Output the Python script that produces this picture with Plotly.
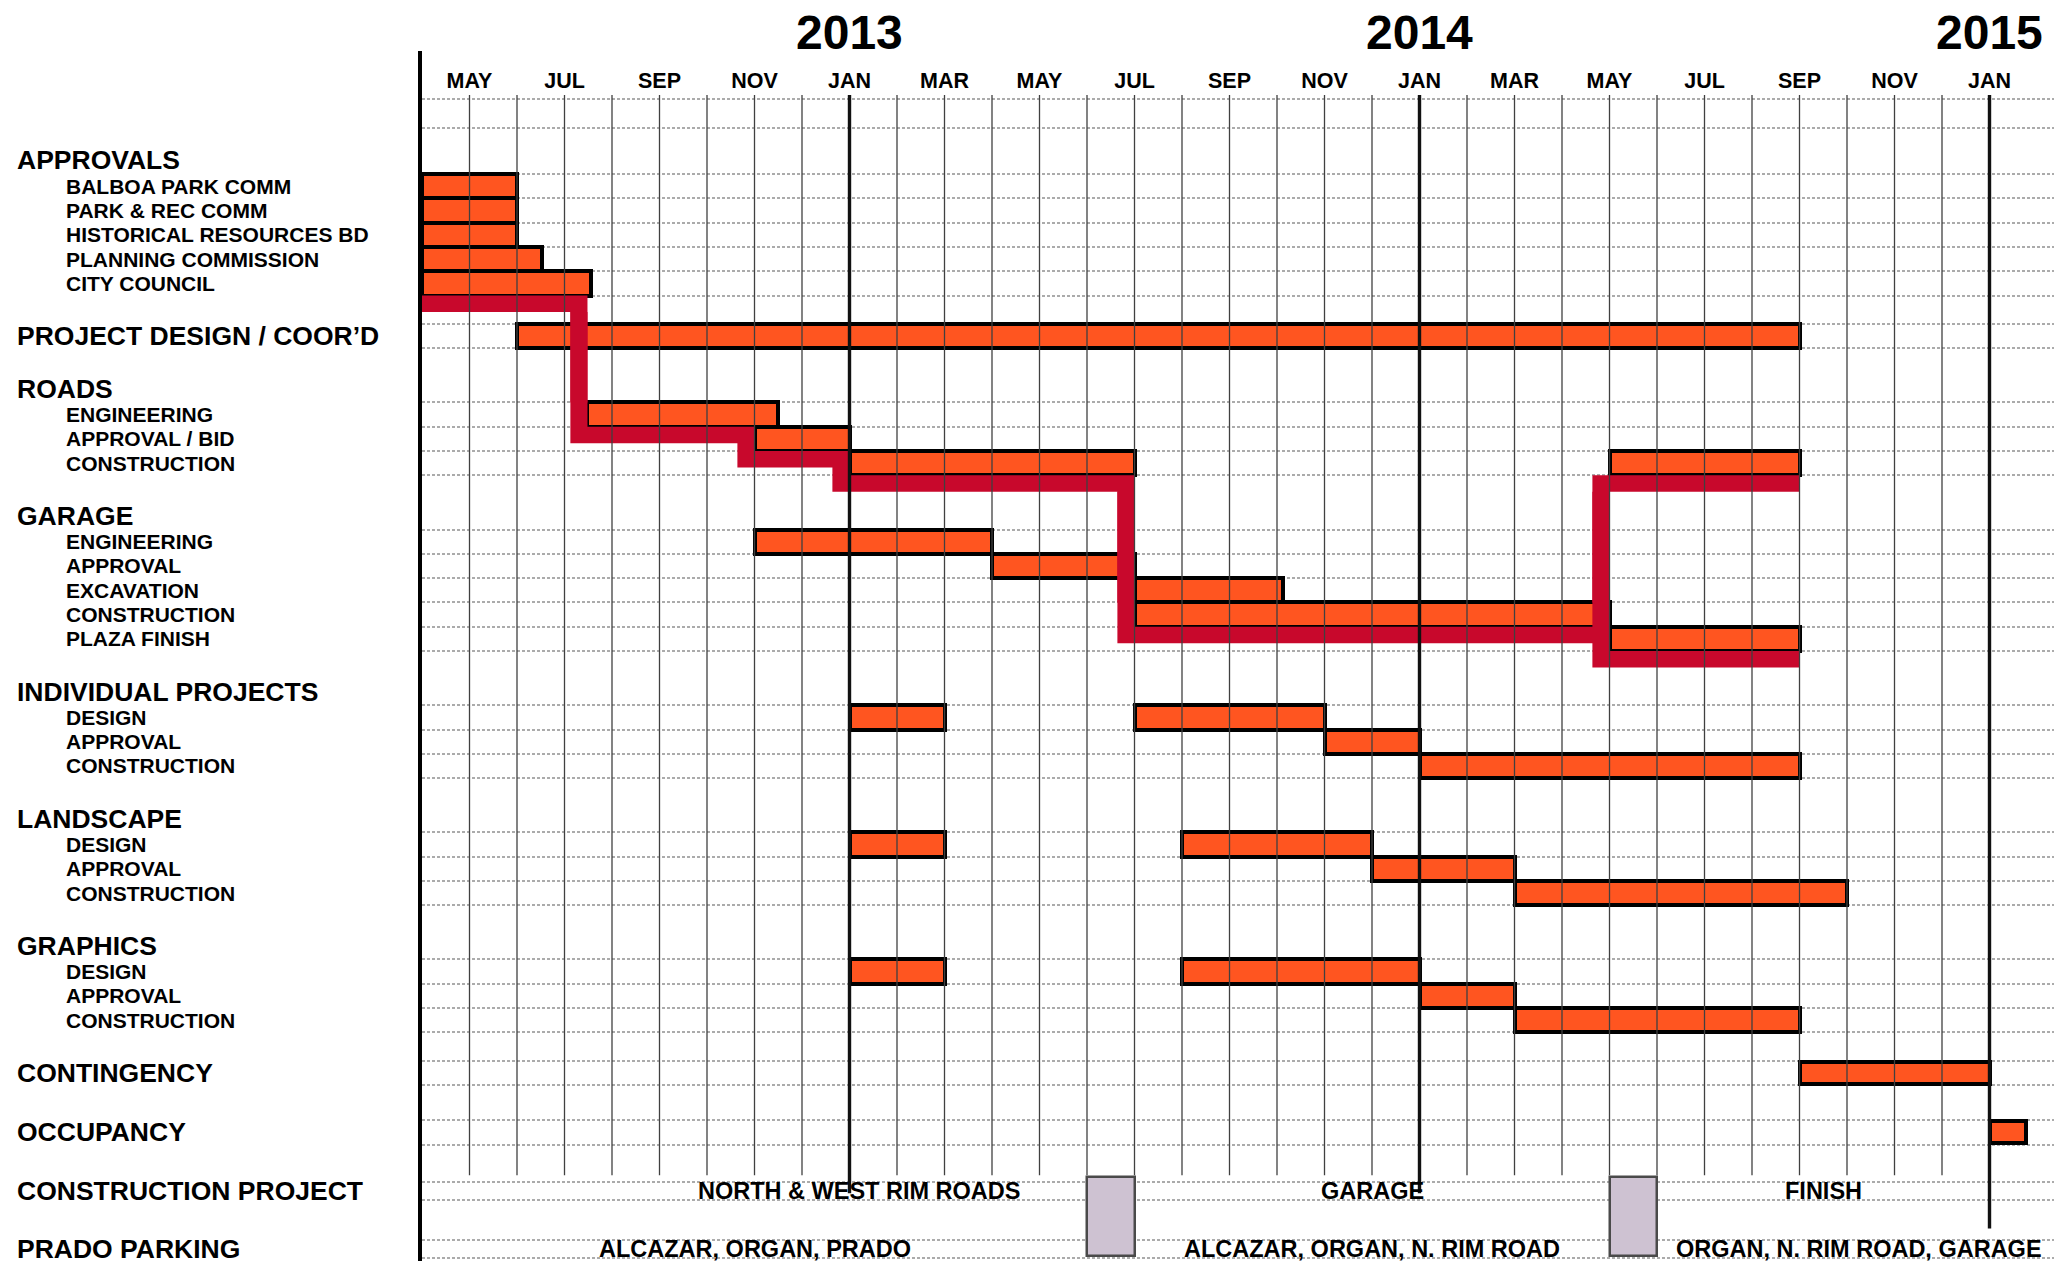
import calendar
import plotly.graph_objects as go

# ----------------------------- data -----------------------------
axis_start = "2012-04-01"          # left edge of the month scale

group_names = ["APPROVALS", "PROJECT DESIGN / COOR’D", "ROADS", "GARAGE",
               "INDIVIDUAL PROJECTS", "LANDSCAPE", "GRAPHICS", "CONTINGENCY", "OCCUPANCY"]
group_tasks = [
    ["BALBOA PARK COMM", "PARK & REC COMM", "HISTORICAL RESOURCES BD",
     "PLANNING COMMISSION", "CITY COUNCIL"],
    [],
    ["ENGINEERING", "APPROVAL / BID", "CONSTRUCTION"],
    ["ENGINEERING", "APPROVAL", "EXCAVATION", "CONSTRUCTION", "PLAZA FINISH"],
    ["DESIGN", "APPROVAL", "CONSTRUCTION"],
    ["DESIGN", "APPROVAL", "CONSTRUCTION"],
    ["DESIGN", "APPROVAL", "CONSTRUCTION"],
    [],
    [],
]

bar_group = (["APPROVALS"] * 5 + ["PROJECT DESIGN / COOR’D"] + ["ROADS"] * 4 +
             ["GARAGE"] * 5 + ["INDIVIDUAL PROJECTS"] * 4 + ["LANDSCAPE"] * 4 +
             ["GRAPHICS"] * 4 + ["CONTINGENCY", "OCCUPANCY"])
bar_task = ["BALBOA PARK COMM", "PARK & REC COMM", "HISTORICAL RESOURCES BD",
            "PLANNING COMMISSION", "CITY COUNCIL",
            "",
            "ENGINEERING", "APPROVAL / BID", "CONSTRUCTION", "CONSTRUCTION",
            "ENGINEERING", "APPROVAL", "EXCAVATION", "CONSTRUCTION", "PLAZA FINISH",
            "DESIGN", "DESIGN", "APPROVAL", "CONSTRUCTION",
            "DESIGN", "DESIGN", "APPROVAL", "CONSTRUCTION",
            "DESIGN", "DESIGN", "APPROVAL", "CONSTRUCTION",
            "", ""]
bar_start = ["2012-04-01", "2012-04-01", "2012-04-01", "2012-04-01", "2012-04-01",
             "2012-06-01",
             "2012-07-16", "2012-11-01", "2013-01-01", "2014-05-01",
             "2012-11-01", "2013-04-01", "2013-07-01", "2013-07-01", "2014-05-01",
             "2013-01-01", "2013-07-01", "2013-11-01", "2014-01-01",
             "2013-01-01", "2013-08-01", "2013-12-01", "2014-03-01",
             "2013-01-01", "2013-08-01", "2014-01-01", "2014-03-01",
             "2014-09-01", "2015-01-01"]
bar_end = ["2012-06-01", "2012-06-01", "2012-06-01", "2012-06-17", "2012-07-18",
           "2014-09-01",
           "2012-11-16", "2013-01-01", "2013-07-01", "2014-09-01",
           "2013-04-01", "2013-07-01", "2013-10-05", "2014-05-01", "2014-09-01",
           "2013-03-01", "2013-11-01", "2014-01-01", "2014-09-01",
           "2013-03-01", "2013-12-01", "2014-03-01", "2014-10-01",
           "2013-03-01", "2014-01-01", "2014-03-01", "2014-09-01",
           "2015-01-01", "2015-01-25"]

# critical path (indices into the bar lists): predecessor -> successor
critical_links = [(4, 6), (6, 7), (7, 8), (8, 13), (13, 9), (13, 14)]

phase_rows = ["CONSTRUCTION PROJECT", "PRADO PARKING"]
construction_phase = ["NORTH & WEST RIM ROADS", "GARAGE", "FINISH"]
construction_phase_start = ["2012-08-01", "2013-07-01", "2014-06-01"]
construction_phase_end = ["2013-06-13", "2014-05-01", "2015-01-01"]
parking_phase = ["ALCAZAR, ORGAN, PRADO", "ALCAZAR, ORGAN, N. RIM ROAD",
                 "ORGAN, N. RIM ROAD, GARAGE"]
parking_phase_start = ["2012-04-01", "2013-07-01", "2014-06-01"]
parking_phase_end = ["2013-06-01", "2014-05-01", "2015-02-15"]
closure_start = ["2013-06-01", "2014-05-01"]
closure_end = ["2013-07-01", "2014-06-01"]

month_labels = ["MAY", "JUL", "SEP", "NOV", "JAN", "MAR", "MAY", "JUL", "SEP",
                "NOV", "JAN", "MAR", "MAY", "JUL", "SEP", "NOV", "JAN"]
year_labels = ["2013", "2014", "2015"]

# ----------------------------- helpers -----------------------------
ay, am, _ = map(int, axis_start.split("-"))


def mi(s):
    """date string -> months since axis start (fractional)"""
    y, m, d = map(int, s.split("-"))
    return (y - ay) * 12 + (m - am) + (d - 1) / calendar.monthrange(y, m)[1]


def esc(t):
    return t.replace("&", "&amp;")


# ----------------------------- style / layout -----------------------------
OFF = 8                       # page body margin of the html page
W, H = 2062 - OFF, 1261 - OFF
ML, MT = 422 - OFF, 51 - OFF
PX_MONTH = 47.5
PX_ROW = 24.3
ROW0_PX = 160.4 - OFF
y_top = (MT - ROW0_PX) / PX_ROW
y_bot = (H - ROW0_PX) / PX_ROW
x_max = (W - ML) / PX_MONTH

ORANGE = "#FF5520"
RED = "#C8082C"
GREY_BOX = "#CEC2D2"
FONT = "Liberation Sans, Arial, Helvetica, sans-serif"

HEADER_TO_TASK = 1.06
GROUP_GAP = 2.17
LATE_GAP = 2.45
TEXT_GAP = 2.4

# ----------------------------- rows -----------------------------
row_header = {}
row_task = {}
y = 0.0
for gi, (g, tasks) in enumerate(zip(group_names, group_tasks)):
    if gi > 0:
        y += LATE_GAP if g == "OCCUPANCY" else GROUP_GAP
    row_header[g] = y
    for ti, t in enumerate(tasks):
        y += HEADER_TO_TASK if ti == 0 else 1.0
        row_task[(g, t)] = y
phase_y = []
for r in phase_rows:
    y += TEXT_GAP
    phase_y.append(y)

bar_y = [row_task[(g, t)] if t else row_header[g] for g, t in zip(bar_group, bar_task)]
bs = [mi(s) for s in bar_start]
be = [mi(e) for e in bar_end]
bar_w = [0.9 if g in ("CONTINGENCY", "OCCUPANCY") else 1.0 for g in bar_group]

fig = go.Figure()

# ----------------------------- critical path shading -----------------------------
D, HH = 0.36, 0.68
succ = {}
for a, b in critical_links:
    succ.setdefault(a, []).append(b)
crit = sorted(set([a for a, b in critical_links] + [b for a, b in critical_links]))


def rect(xs, ys, x0, x1, y0, y1):
    xs += [x0, x1, x1, x0, x0, None]
    ys += [y0, y0, y1, y1, y0, None]


ux, uy, ox, oy = [], [], [], []
for i in crit:
    x1 = min([be[i]] + [bs[j] for j in succ.get(i, [])])
    rect(ux, uy, bs[i] - D, x1, bar_y[i] + 0.5, bar_y[i] + 0.5 + HH)
for a, b in critical_links:
    rect(ux, uy, bs[b] - D, bs[b], min(bar_y[a], bar_y[b]) + 0.5,
         max(bar_y[a], bar_y[b]) + 0.5 + HH)
    lo, hi = sorted([bar_y[a], bar_y[b]])
    if hi - 0.5 > lo + 0.5 + HH:
        rect(ox, oy, bs[b] - D, bs[b], lo + 0.5 + HH, hi - 0.5)

fig.add_trace(go.Scatter(x=ux, y=uy, mode="lines", line=dict(width=0, color=RED),
                         fill="toself", fillcolor=RED, hoverinfo="skip", showlegend=False))

# ----------------------------- task bars -----------------------------
fig.add_trace(go.Bar(orientation="h", y=bar_y, base=bs,
                     x=[e - s for s, e in zip(bs, be)], width=bar_w,
                     marker=dict(color=ORANGE, line=dict(color="black", width=4)),
                     hoverinfo="skip", showlegend=False))

fig.add_trace(go.Scatter(x=ox, y=oy, mode="lines", line=dict(width=0, color=RED),
                         fill="toself", fillcolor=RED, hoverinfo="skip", showlegend=False))

# ----------------------------- closure boxes -----------------------------
box_y0 = phase_y[0] - 0.55
box_y1 = phase_y[1] + 0.3
cs = [mi(s) for s in closure_start]
ce = [mi(e) for e in closure_end]
fig.add_trace(go.Bar(orientation="h", y=[(box_y0 + box_y1) / 2] * len(cs), base=cs,
                     x=[e - s for s, e in zip(cs, ce)], width=box_y1 - box_y0,
                     marker=dict(color=GREY_BOX, line=dict(color="#4a4a4a", width=2.5)),
                     hoverinfo="skip", showlegend=False))

# ----------------------------- month grid (drawn over the bars) -----------------------------
grid_top = (95 - OFF - ROW0_PX) / PX_ROW
grid_bot = phase_y[0] - 0.64
jan_idx = [mi(f"{yl}-01-01") for yl in year_labels]
gx, gy, jx, jy = [], [], [], []
for m in range(1, int(max(jan_idx)) + 1):
    if any(abs(m - j) < 1e-9 for j in jan_idx):
        end = phase_y[1] - 0.85 if m == max(jan_idx) else phase_y[0] + 0.1
        jx += [m, m, None]
        jy += [grid_top, end, None]
    else:
        gx += [m, m, None]
        gy += [grid_top, grid_bot, None]
fig.add_trace(go.Scatter(x=gx, y=gy, mode="lines", line=dict(color="#404040", width=1.3),
                         hoverinfo="skip", showlegend=False))
fig.add_trace(go.Scatter(x=jx, y=jy, mode="lines", line=dict(color="#111111", width=3.4),
                         hoverinfo="skip", showlegend=False))

# ----------------------------- horizontal ruling (y grid) -----------------------------
hlines = [y_top + 0.06, grid_top - 0.25, grid_top + 0.16, grid_top + 1.36]
for yy in sorted(set(bar_y)):
    hlines += [yy - 0.5, yy + 0.5]
for yy in phase_y:
    hlines += [yy - 0.37, yy + 0.37]

# ----------------------------- text -----------------------------
ann = []
HX = (15 - OFF - ML) / (W - ML)
TX = (64 - OFF - ML) / (W - ML)
for g in group_names:
    ann.append(dict(x=HX, xref="paper", y=row_header[g], yref="y", xanchor="left",
                    yanchor="middle", text=f"<b>{esc(g)}</b>", showarrow=False,
                    font=dict(family=FONT, size=26.5, color="black")))
for (g, t), yy in row_task.items():
    ann.append(dict(x=TX, xref="paper", y=yy, yref="y", xanchor="left",
                    yanchor="middle", text=f"<b>{esc(t)}</b>", showarrow=False,
                    font=dict(family=FONT, size=21, color="black")))
for r, yy in zip(phase_rows, phase_y):
    ann.append(dict(x=HX, xref="paper", y=yy, yref="y", xanchor="left",
                    yanchor="middle", text=f"<b>{esc(r)}</b>", showarrow=False,
                    font=dict(family=FONT, size=26.5, color="black")))
for labels, starts, ends, yy in [(construction_phase, construction_phase_start,
                                  construction_phase_end, phase_y[0]),
                                 (parking_phase, parking_phase_start,
                                  parking_phase_end, phase_y[1])]:
    for lab, s, e in zip(labels, starts, ends):
        ann.append(dict(x=(mi(s) + mi(e)) / 2, xref="x", y=yy, yref="y",
                        xanchor="center", yanchor="middle", text=f"<b>{esc(lab)}</b>",
                        showarrow=False, font=dict(family=FONT, size=23.5, color="black")))
for yl, j in zip(year_labels, jan_idx):
    ann.append(dict(x=j, xref="x", y=1 + (MT - (32 - OFF)) / (H - MT), yref="paper",
                    xanchor="center", yanchor="middle", text=f"<b>{yl}</b>",
                    showarrow=False, font=dict(family=FONT, size=48, color="black")))

fig.update_layout(
    width=W, height=H,
    margin=dict(l=ML, r=0, t=MT, b=0, pad=0),
    paper_bgcolor="white", plot_bgcolor="white",
    barmode="overlay", bargap=0,
    showlegend=False,
    annotations=ann,
    xaxis=dict(range=[0, x_max], side="top", showgrid=False, zeroline=False,
               showline=False, tickvals=[1 + 2 * k for k in range(len(month_labels))],
               ticktext=[f"<b>{m}</b>" for m in month_labels],
               ticklabelposition="inside", ticks="inside", ticklen=23,
               tickcolor="rgba(0,0,0,0)",
               tickfont=dict(family=FONT, size=21.5, color="black")),
    yaxis=dict(range=[y_bot, y_top], showticklabels=False, ticks="",
               tickvals=hlines, showgrid=True, gridcolor="#ababab", gridwidth=1.5,
               griddash="3px,2px", zeroline=False, showline=True, linecolor="black",
               linewidth=4, layer="above traces"),
)

fig.write_html("out.html")
